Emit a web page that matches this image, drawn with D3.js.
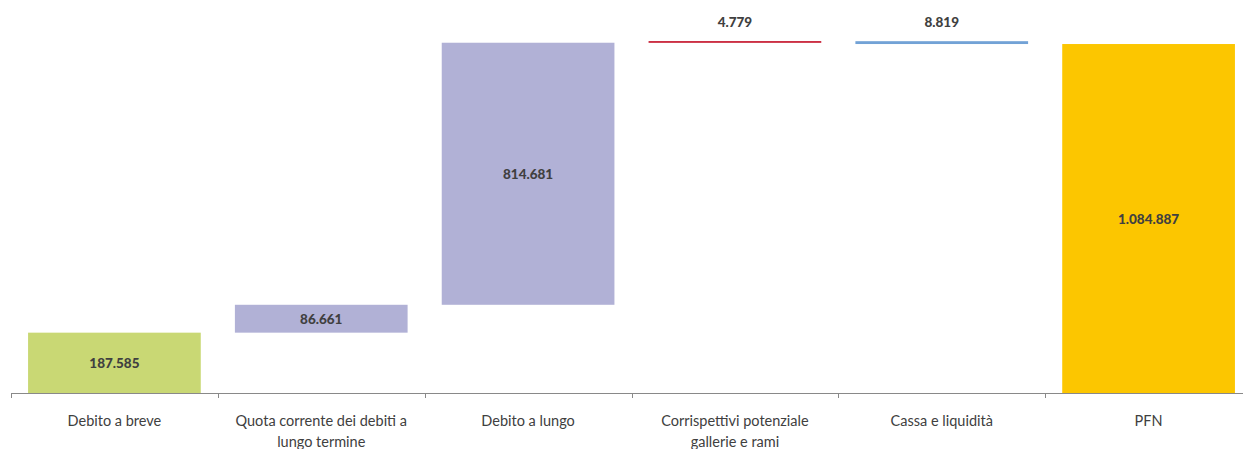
<!DOCTYPE html>
<html>
<head>
<meta charset="utf-8">
<script src="https://cdn.jsdelivr.net/npm/d3@7"></script>
<style>
  body { margin: 0; background: #fff; }
  text { font-family: Lato, "Open Sans", sans-serif; }
</style>
</head>
<body>
<div id="container"></div>
<script>
// chart data
var categories = ["Debito a breve", "Quota corrente dei debiti a lungo termine", "Debito a lungo",
                  "Corrispettivi potenziale gallerie e rami", "Cassa e liquidità", "PFN"];
var values = [187585, 86661, 814681, 4779, -8819, 1084887];
var isTotal = [false, false, false, false, false, true];
var barColors = ["#c9d874", "#b1b1d6", "#b1b1d6", "#c0001a", "#72a2d6", "#fcc600"];

var width = 1243, height = 449;

var svg = d3.select("#container").append("svg")
    .attr("width", width)
    .attr("height", height);

// build waterfall steps
var running = 0;
var steps = categories.map(function(c, i) {
  var s, e;
  if (isTotal[i]) { s = 0; e = values[i]; running = values[i]; }
  else { s = running; e = running + values[i]; running = e; }
  return { name: c, value: values[i], start: s, end: e, color: barColors[i] };
});

var x = d3.scaleBand().domain(categories).range([11, 1252]).paddingInner(0.165).paddingOuter(0.0825);
var y = d3.scaleLinear().domain([0, 1200000]).range([393, 7]);

var fmt = function(v) { return d3.format(",")(Math.abs(v)).replace(/,/g, "."); };

// bars
svg.selectAll("rect.bar")
  .data(steps)
  .enter().append("rect")
  .attr("class", "bar")
  .attr("x", d => x(d.name))
  .attr("width", x.bandwidth())
  .attr("y", d => y(Math.max(d.start, d.end)))
  .attr("height", d => Math.abs(y(d.start) - y(d.end)))
  .attr("fill", d => d.color);

// value labels
svg.selectAll("text.val")
  .data(steps)
  .enter().append("text")
  .attr("class", "val")
  .attr("x", d => x(d.name) + x.bandwidth() / 2)
  .attr("y", function(d) {
    var top = y(Math.max(d.start, d.end)), bot = y(Math.min(d.start, d.end));
    if (bot - top < 20) return top - 14;
    return (top + bot) / 2 + 5;
  })
  .attr("text-anchor", "middle")
  .style("font-size", "13.5px")
  .style("font-weight", "900")
  .style("fill", "#404040")
  .text(d => fmt(d.value));

// axis
var step = x.step();
var edges = categories.map(c => x(c) - x.paddingInner() * step / 2);
svg.append("line")
  .attr("x1", 11).attr("x2", 1252)
  .attr("y1", 393.5).attr("y2", 393.5)
  .attr("stroke", "#898989").attr("stroke-width", 1);
svg.selectAll("line.tick")
  .data(edges)
  .enter().append("line")
  .attr("class", "tick")
  .attr("x1", d => Math.round(d) + 0.5).attr("x2", d => Math.round(d) + 0.5)
  .attr("y1", 393).attr("y2", 398)
  .attr("stroke", "#898989");

// category labels, wrapped
var labels = svg.selectAll("text.cat")
  .data(categories)
  .enter().append("text")
  .attr("class", "cat")
  .attr("x", d => x(d) + x.bandwidth() / 2)
  .attr("y", 426)
  .attr("text-anchor", "middle")
  .style("font-size", "14.5px")
  .style("fill", "#404040")
  .text(d => d);

labels.each(function() {
  var t = d3.select(this);
  var words = t.text().split(" ");
  var cx = t.attr("x");
  t.text(null);
  var line = [];
  var tspan = t.append("tspan").attr("x", cx).attr("dy", 0);
  words.forEach(function(w) {
    line.push(w);
    tspan.text(line.join(" "));
    if (tspan.node().getComputedTextLength() > 190 && line.length > 1) {
      line.pop();
      tspan.text(line.join(" "));
      line = [w];
      tspan = t.append("tspan").attr("x", cx).attr("dy", "1.45em").text(w);
    }
  });
});
</script>
</body>
</html>
